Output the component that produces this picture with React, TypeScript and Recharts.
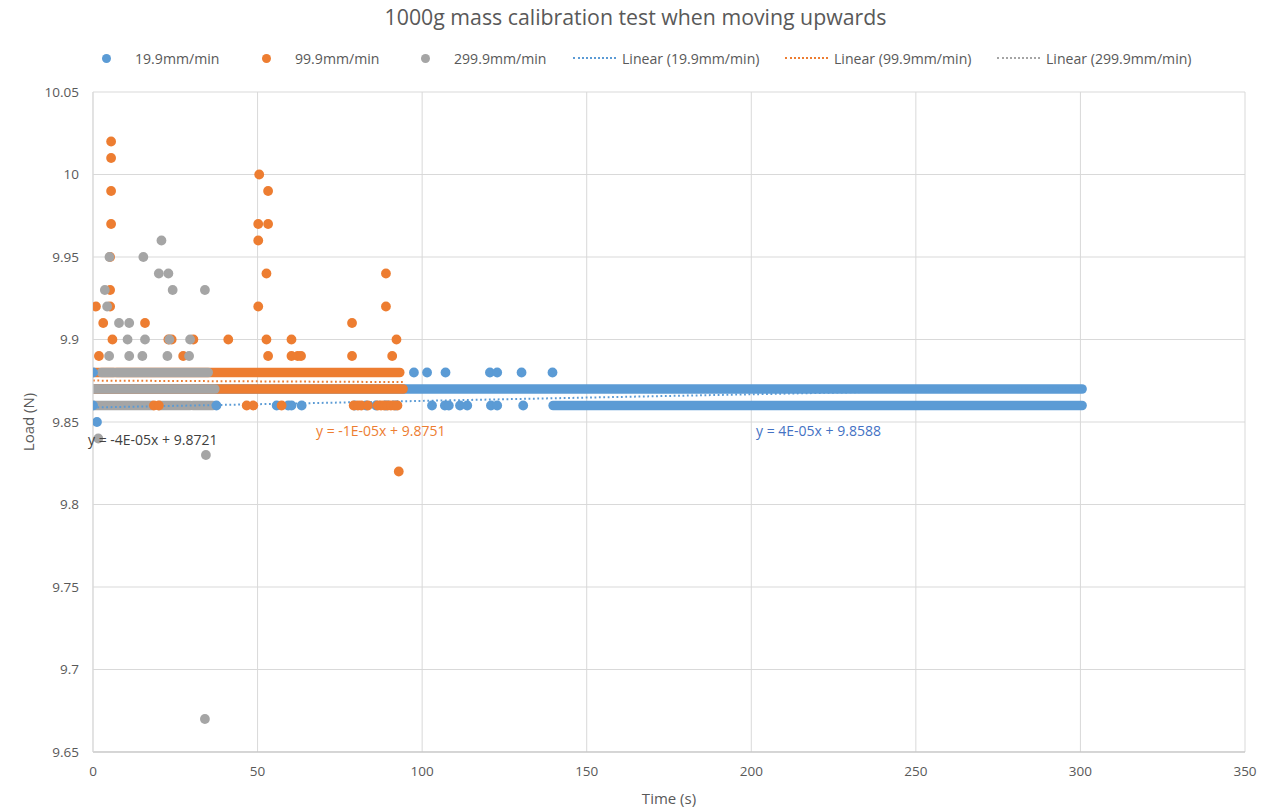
import React from 'react'
import { ComposedChart, Scatter, Line, XAxis, YAxis, CartesianGrid } from 'recharts'

const BLUE = '#5B9BD5'
const ORANGE = '#ED7D31'
const GRAY = '#A5A5A5'
const TEXT = '#595959'
const FONT = '"Open Sans", "Liberation Sans", sans-serif'

// axis ticks
const xTicks = [0, 50, 100, 150, 200, 250, 300, 350]
const yTicks = [9.65, 9.7, 9.75, 9.8, 9.85, 9.9, 9.95, 10, 10.05]

// dense runs of readings (continuous bands of points): [from x, to x, load]
const blueRuns = [
  [0, 300.5, 9.87],
  [139.8, 300.5, 9.86],
]
const orangeRuns = [
  [0, 93.2, 9.88],
  [0, 94.2, 9.87],
]
const grayRuns = [
  [2.6, 6.2, 9.88],
  [7.2, 35, 9.88],
  [0, 37, 9.87],
  [0, 18, 9.86],
  [20, 29.5, 9.86],
  [30.4, 36.4, 9.86],
]

// single readings: [time, load]
const bluePoints = [
  [0, 9.88], [0, 9.86], [1.2, 9.85], [37.5, 9.86], [55.8, 9.86], [59.3, 9.86], [60.3, 9.86], [63.4, 9.86],
  [79.5, 9.86], [83, 9.86], [86, 9.86], [89, 9.86], [92, 9.86],
  [97.5, 9.88], [101.5, 9.88], [107.1, 9.88], [120.6, 9.88], [122.8, 9.88], [130.2, 9.88], [139.6, 9.88],
  [103, 9.86], [106.9, 9.86], [108.1, 9.86], [111.5, 9.86], [113.7, 9.86], [120.9, 9.86], [122.8, 9.86], [130.7, 9.86],
]
const orangePoints = [
  [0.9, 9.92], [3.1, 9.91], [1.8, 9.89], [5.5, 10.02], [5.5, 10.01], [5.5, 9.99], [5.5, 9.97], [5.2, 9.95],
  [5.2, 9.93], [5.2, 9.92], [5.9, 9.9], [15.8, 9.91], [22.9, 9.9], [23.9, 9.9], [27.4, 9.89], [30.5, 9.9],
  [41.1, 9.9], [50.5, 10.0], [53.2, 9.99], [50.2, 9.97], [53.2, 9.97], [50.2, 9.96], [52.7, 9.94], [50.2, 9.92],
  [52.7, 9.9], [53.2, 9.89], [60.3, 9.9], [60.3, 9.89], [62.2, 9.89], [63.2, 9.89], [78.7, 9.91], [78.7, 9.89],
  [89, 9.94], [89, 9.92], [92.2, 9.9], [90.9, 9.89], [92.9, 9.82],
  [18.5, 9.86], [20, 9.86], [46.7, 9.86], [48.7, 9.86], [57.3, 9.86], [79.2, 9.86], [80.5, 9.86], [81.5, 9.86],
  [83.5, 9.86], [86.5, 9.86], [87.5, 9.86], [88.5, 9.86], [89.5, 9.86], [90.5, 9.86], [91.5, 9.86], [92.5, 9.86],
]
const grayPoints = [
  [20.8, 9.96], [5.0, 9.95], [15.3, 9.95], [20, 9.94], [22.9, 9.94], [3.6, 9.93], [24.2, 9.93], [34, 9.93],
  [4.3, 9.92], [7.9, 9.91], [11, 9.91], [10.5, 9.9], [15.8, 9.9], [23.2, 9.9], [29.5, 9.9], [4.9, 9.89],
  [11, 9.89], [15, 9.89], [22.6, 9.89], [29.2, 9.89], [1.6, 9.84], [34.3, 9.83], [34, 9.67],
]

// linear trendlines, endpoints
const blueTrend = [[0, 9.8588], [300.5, 9.8708]]
const orangeTrend = [[0, 9.8751], [94.2, 9.8742]]
const grayTrend = [[0, 9.8721], [37, 9.8706]]

const toXY = (arr: number[][]) => arr.map(([x, y]) => ({ x, y }))

const dot = (color: string) => (p: any) =>
  p.cx == null ? <g /> : <circle cx={p.cx} cy={p.cy} r={4.9} fill={color} />

const runLines = (runs: number[][], color: string, key: string) =>
  runs.map(([a, b, y], i) => (
    <Line
      key={`${key}-${i}`}
      data={[{ x: a, y }, { x: b, y }]}
      dataKey="y"
      type="linear"
      stroke={color}
      strokeWidth={9.6}
      strokeLinecap="round"
      dot={false}
      activeDot={false}
      isAnimationActive={false}
    />
  ))

const trendLine = (pts: number[][], color: string, key: string) => (
  <Line
    key={key}
    data={toXY(pts)}
    dataKey="y"
    type="linear"
    stroke={color}
    strokeWidth={2}
    strokeDasharray="1.8 2.6"
    dot={false}
    activeDot={false}
    isAnimationActive={false}
  />
)

const legendItems = [
  { kind: 'dot', color: BLUE, label: '19.9mm/min', x: 102 },
  { kind: 'dot', color: ORANGE, label: '99.9mm/min', x: 262 },
  { kind: 'dot', color: GRAY, label: '299.9mm/min', x: 421 },
  { kind: 'line', color: BLUE, label: 'Linear (19.9mm/min)', x: 573 },
  { kind: 'line', color: ORANGE, label: 'Linear (99.9mm/min)', x: 785 },
  { kind: 'line', color: GRAY, label: 'Linear (299.9mm/min)', x: 997 },
]

export default function App() {
  const fmt = (v: number) => String(Number(v.toFixed(2)))
  return (
    <div style={{ position: 'absolute', left: 0, top: 0, width: 1281, height: 807, background: '#fff', fontFamily: FONT }}>
      <div style={{ position: 'absolute', left: -5, width: 1281, top: 2, textAlign: 'center', fontSize: 21.3, color: TEXT }}>
        1000g mass calibration test when moving upwards
      </div>

      {legendItems.map((it) => (
        <div key={it.label} style={{ position: 'absolute', left: it.x, top: 49, height: 18, display: 'flex', alignItems: 'center', fontSize: 14.1, color: TEXT, whiteSpace: 'nowrap' }}>
          {it.kind === 'dot' ? (
            <span style={{ display: 'inline-block', width: 9, height: 9, borderRadius: 5, background: it.color, marginRight: 24 }} />
          ) : (
            <span style={{ display: 'inline-block', width: 43, borderTop: `2px dotted ${it.color}`, marginRight: 6 }} />
          )}
          {it.label}
        </div>
      ))}

      <ComposedChart width={1281} height={807} margin={{ top: 92, right: 36, left: 0, bottom: 0 }} style={{ position: 'absolute', left: 0, top: 0 }}>
        <CartesianGrid stroke="#d9d9d9" strokeWidth={1} />
        <XAxis
          type="number"
          dataKey="x"
          domain={[0, 350]}
          ticks={xTicks}
          height={55}
          tickLine={false}
          tickSize={6}
          tickMargin={8}
          axisLine={{ stroke: '#bfbfbf' }}
          tick={{ fill: TEXT, fontSize: 13.5 }}
          allowDataOverflow
        />
        <YAxis
          type="number"
          dataKey="y"
          domain={[9.65, 10.05]}
          ticks={yTicks}
          width={93}
          tickLine={false}
          tickSize={6}
          tickMargin={8}
          axisLine={{ stroke: '#d9d9d9' }}
          tick={{ fill: TEXT, fontSize: 13.5 }}
          tickFormatter={fmt}
          allowDataOverflow
        />
        {runLines(blueRuns, BLUE, 'b')}
        <Scatter data={toXY(bluePoints)} dataKey="y" shape={dot(BLUE)} isAnimationActive={false} />
        {runLines(orangeRuns, ORANGE, 'o')}
        <Scatter data={toXY(orangePoints)} dataKey="y" shape={dot(ORANGE)} isAnimationActive={false} />
        {runLines(grayRuns, GRAY, 'g')}
        <Scatter data={toXY(grayPoints)} dataKey="y" shape={dot(GRAY)} isAnimationActive={false} />
        {trendLine(blueTrend, BLUE, 'tb')}
        {trendLine(orangeTrend, ORANGE, 'to')}
        {trendLine(grayTrend, GRAY, 'tg')}
      </ComposedChart>

      <div style={{ position: 'absolute', left: 88, top: 430, fontSize: 14, color: '#404040', whiteSpace: 'nowrap' }}>y = -4E-05x + 9.8721</div>
      <div style={{ position: 'absolute', left: 316, top: 421, fontSize: 14, color: ORANGE, whiteSpace: 'nowrap' }}>y = -1E-05x + 9.8751</div>
      <div style={{ position: 'absolute', left: 756, top: 421, fontSize: 14, color: '#4472C4', whiteSpace: 'nowrap' }}>y = 4E-05x + 9.8588</div>

      <div style={{ position: 'absolute', left: 28, top: 422, transform: 'translate(-50%, -50%) rotate(-90deg)', fontSize: 15, color: TEXT, whiteSpace: 'nowrap' }}>Load (N)</div>
      <div style={{ position: 'absolute', left: 669, top: 798, transform: 'translate(-50%, -50%)', fontSize: 15, color: TEXT, whiteSpace: 'nowrap' }}>Time (s)</div>
    </div>
  )
}
